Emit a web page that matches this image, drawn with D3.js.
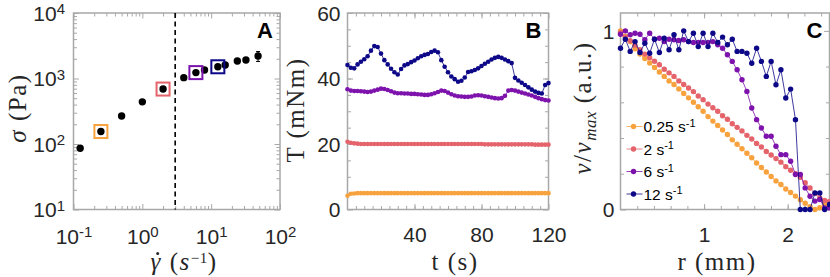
<!DOCTYPE html>
<html><head><meta charset="utf-8">
<script src="https://cdn.jsdelivr.net/npm/d3@7"></script>
<style>body{margin:0;background:#fff}svg{display:block}</style>
</head><body><svg id="chart" width="830" height="277"></svg>
<script>
// ---------------- DATA ----------------
const rateLabels = ["0.25", "2", "6", "12"];
const rateColors = ["#f8a23e", "#e5636b", "#7d12ac", "#0d0887"];

// Panel A: flow curve
const gammaA = [0.125, 0.25, 0.5, 1, 2, 4, 6, 8, 12.5, 16, 24, 32, 48];
const sigmaA = [86, 155, 268, 440, 690, 1030, 1230, 1350, 1510, 1610, 1850, 1920, 2200];
const errA   = [0, 0, 0, 0, 0, 0, 0, 0, 0, 0, 160, 160, 380];
const markedGammaA = [0.25, 2, 6, 12.5];
const criticalGamma = 3;
const xTicksA = [0.1, 1, 10, 100];
const yTicksA = [10, 100, 1000, 10000];

// Panel B: torque vs time
const tB = [0,2,4,6,8,10,12,14,16,18,20,22,24,26,28,30,32,34,36,38,40,42,44,46,48,50,52,54,56,58,60,
            62,64,66,68,70,72,74,76,78,80,82,84,86,88,90,92,94,96,98,100,102,104,106,108,110,112,114,116,118,120];
const torque025 = [4.2,4.8,4.9,5.0,5.0,5.0,5.0,5.0,5.0,5.0,5.0,5.0,5.0,5.0,5.0,5.0,5.0,5.0,5.0,5.0,5.0,
                   5.0,5.0,5.0,5.0,5.0,5.0,5.0,5.0,5.0,5.0,5.0,5.0,5.0,5.0,5.0,5.0,5.0,5.0,5.0,5.0,
                   5.0,5.0,5.0,5.0,5.0,5.0,5.0,5.0,5.0,5.0,5.0,5.0,5.0,5.0,5.0,5.0,5.0,5.0,5.0,5.0];
const torque2 = [20.7,20.4,20.2,20.1,20.0,20.0,20.0,20.0,20.0,20.0,20.0,20.0,20.0,20.0,20.0,20.0,20.0,20.0,20.0,20.0,20.0,
                 20.0,20.0,20.0,20.0,20.0,20.0,20.0,20.0,20.0,20.0,20.0,20.0,20.0,20.0,20.0,20.0,20.0,20.0,20.0,20.0,
                 19.9,19.9,19.9,19.9,19.9,19.9,19.9,19.9,19.9,19.9,19.9,19.9,19.9,19.9,19.9,19.8,19.8,19.8,19.8,19.8];
const torque6 = [36.7,36.3,36.2,36.2,36.1,36.0,35.9,36.0,36.3,36.6,36.9,36.8,36.5,36.1,35.7,35.5,35.5,35.4,35.4,35.3,35.3,
                 35.2,35.1,35.0,35.0,35.2,35.5,35.9,36.3,36.2,35.7,35.2,34.8,34.6,34.5,34.4,34.4,34.5,34.8,34.9,34.8,
                 34.6,34.4,34.2,34.0,33.9,34.0,34.7,36.3,36.5,36.3,36.0,35.7,35.4,35.1,34.8,34.4,34.0,33.7,33.4,33.3];
const torque12 = [44.1,43.3,43.1,44.3,45.1,45.9,46.8,48.5,49.9,49.6,47.6,45.6,44.3,43.0,41.9,41.2,42.9,44.0,44.4,45.0,45.5,
                  46.2,46.8,47.2,47.5,48.1,48.5,48.0,45.6,43.6,41.9,40.6,39.8,39.0,39.3,40.3,42.0,42.2,42.6,43.1,43.8,
                  44.5,45.1,45.8,46.3,46.6,46.3,45.8,45.3,44.7,40.2,39.4,38.7,38.0,37.3,36.6,36.0,35.6,35.4,38.0,38.6];
const xTicksB = [40, 80, 120];
const yTicksB = [0, 20, 40, 60];

// Panel C: velocity profiles
const rC = [0,0.058,0.116,0.174,0.233,0.291,0.349,0.407,0.465,0.523,0.581,0.640,0.698,0.756,0.814,0.872,0.930,0.988,
            1.047,1.105,1.163,1.221,1.279,1.337,1.395,1.453,1.512,1.570,1.628,1.686,1.744,1.802,1.860,1.919,1.977,
            2.035,2.093,2.151,2.209,2.267,2.326,2.384,2.442,2.500];
const vel025 = [1.00,0.97,0.94,0.90,0.87,0.845,0.82,0.795,0.77,0.745,0.72,0.70,0.675,0.65,0.625,0.60,0.575,0.55,
                0.52,0.495,0.47,0.445,0.42,0.39,0.365,0.34,0.315,0.29,0.26,0.235,0.21,0.185,0.16,0.14,0.115,
                0.095,0.075,0.055,0.035,0.015,0.0,0.01,0.03,0.04];
const vel2 = [0.99,0.965,0.945,0.92,0.895,0.87,0.85,0.83,0.81,0.785,0.765,0.745,0.72,0.70,0.68,0.66,0.635,0.615,
              0.59,0.57,0.55,0.525,0.505,0.48,0.46,0.44,0.415,0.395,0.37,0.35,0.325,0.305,0.285,0.265,0.24,
              0.22,0.20,0.18,0.15,0.12,0.09,0.065,0.05,0.045];
const vel6 = [0.981,1.0,0.978,0.987,0.981,0.950,0.987,0.953,0.959,0.940,0.953,0.950,0.946,0.950,0.940,0.935,0.935,0.935,
              0.935,0.940,0.922,0.903,0.866,0.829,0.782,0.726,0.661,0.568,0.503,0.456,0.410,0.410,0.354,0.307,0.307,
              0.270,0.196,0.196,0.121,0.074,0.047,0.056,0.009,0.009];
const vel12 = [0.903,0.953,0.885,0.940,0.879,0.931,0.875,0.953,0.879,0.959,0.894,0.978,0.894,1.0,0.940,0.987,0.912,0.987,
               0.912,0.987,0.935,0.965,0.922,0.953,0.885,0.885,0.875,0.819,0.903,0.829,0.745,0.829,0.698,0.782,0.624,
               0.674,0.503,0.0,0.0,0.0,0.093,0.093,0.0,0.028];
const xTicksC = [1, 2];
const yTicksC = [0, 1];

// ---------------- DRAWING ----------------
const svg = d3.select("#chart");
const tickFont = "'Liberation Sans', Arial, sans-serif";
const serifFont = "'Liberation Serif', 'Times New Roman', serif";
const frameColor = "#a8a8a8";
const textColor = "#262626";

const plotTop = 13, plotBottom = 209.5;
const panels = {
  A: {l: 73.5, r: 280},
  B: {l: 347.5, r: 548.5},
  C: {l: 620.5, r: 829.5}
};

function frame(g, x, y, xMajor, xMinor, yMajor, yMinor, w, h) {
  const mk = (axisFn, scale, vals, size) => axisFn(scale).tickValues(vals).tickSize(-size).tickSizeOuter(0).tickFormat("");
  const parts = [
    [d3.axisBottom, x, `translate(0,${h})`, xMinor, 3.5],
    [d3.axisBottom, x, `translate(0,${h})`, xMajor, 5.5],
    [d3.axisTop, x, `translate(0,0)`, xMinor, 3.5],
    [d3.axisTop, x, `translate(0,0)`, xMajor, 5.5],
    [d3.axisLeft, y, `translate(0,0)`, yMinor, 3.5],
    [d3.axisLeft, y, `translate(0,0)`, yMajor, 5.5],
    [d3.axisRight, y, `translate(${w},0)`, yMinor, 3.5],
    [d3.axisRight, y, `translate(${w},0)`, yMajor, 5.5]
  ];
  parts.forEach(([fn, sc, tr, vals, size]) => {
    const a = g.append("g").attr("transform", tr).call(mk(fn, sc, vals, size));
    a.select(".domain").remove();
    a.selectAll("line").attr("stroke", frameColor).attr("stroke-width", 1);
  });
  g.append("rect").attr("x", 0).attr("y", 0).attr("width", w).attr("height", h)
    .attr("fill", "none").attr("stroke", frameColor).attr("stroke-width", 1.5);
}

function labelsBottom(g, x, vals, h, fmt, baseline) {
  const a = g.append("g").attr("transform", `translate(0,${h})`)
    .call(d3.axisBottom(x).tickValues(vals).tickSize(0).tickFormat(""));
  a.select(".domain").remove();
  a.selectAll(".tick text").attr("y", baseline).attr("dy", 0)
    .attr("font-family", tickFont).attr("font-size", 21).attr("fill", textColor)
    .each(function(d) { fmt(d3.select(this), d); });
}
function labelsLeft(g, y, vals, pad, fmt) {
  const a = g.append("g").call(d3.axisLeft(y).tickValues(vals).tickSize(0).tickFormat(""));
  a.select(".domain").remove();
  a.selectAll(".tick text").attr("x", -pad).attr("dy", "0.35em")
    .attr("font-family", tickFont).attr("font-size", 21).attr("fill", textColor)
    .each(function(d) { fmt(d3.select(this), d); });
}
const plain = (s, d) => s.text(String(d));
const pow10 = (s, d) => {
  s.text("10");
  s.append("tspan").attr("dy", "-0.45em").attr("font-size", 15).text(String(Math.round(Math.log10(d))));
};

const titleSize = 25, titleSpacing = 1.5;
function yTitle(cx, cy, build) {
  const t = svg.append("text").attr("transform", `translate(${cx},${cy}) rotate(-90)`)
    .attr("text-anchor", "middle").attr("dy", "0.32em")
    .attr("font-family", serifFont).attr("font-size", titleSize).attr("letter-spacing", titleSpacing)
    .attr("fill", textColor);
  build(t);
  return t;
}
function xTitle(cx, by, build) {
  const t = svg.append("text").attr("x", cx).attr("y", by).attr("text-anchor", "middle")
    .attr("font-family", serifFont).attr("font-size", titleSize).attr("letter-spacing", titleSpacing)
    .attr("fill", textColor);
  build(t);
  return t;
}
function panelLetter(g, w, letter) {
  g.append("text").attr("x", w - 7).attr("y", 25).attr("text-anchor", "end")
    .attr("font-family", tickFont).attr("font-weight", "bold").attr("font-size", 22)
    .attr("fill", "#000").text(letter);
}

const H = plotBottom - plotTop;

// ===== Panel A =====
{
  const P = panels.A, w = P.r - P.l;
  const g = svg.append("g").attr("transform", `translate(${P.l},${plotTop})`);
  const x = d3.scaleLog().domain([0.1, 100]).range([0, w]);
  const y = d3.scaleLog().domain([10, 10000]).range([H, 0]);
  const minorX = [], minorY = [];
  [0.1, 1, 10].forEach(b => d3.range(2, 10).forEach(k => minorX.push(b * k)));
  [10, 100, 1000].forEach(b => d3.range(2, 10).forEach(k => minorY.push(b * k)));
  frame(g, x, y, xTicksA, minorX, yTicksA, minorY, w, H);
  labelsBottom(g, x, xTicksA, H, pow10, 34.5);
  labelsLeft(g, y, yTicksA, 8.5, pow10);

  g.append("line").attr("x1", x(criticalGamma)).attr("x2", x(criticalGamma))
    .attr("y1", 0).attr("y2", H).attr("stroke", "#000").attr("stroke-width", 1.6)
    .attr("stroke-dasharray", "5,3.5");

  const pts = gammaA.map((gm, i) => ({gm, s: sigmaA[i], e: errA[i]}));
  pts.filter(p => p.e > 0).forEach(p => {
    const x0 = x(p.gm), y1 = y(p.s - p.e), y2 = y(p.s + p.e);
    g.append("line").attr("x1", x0).attr("x2", x0).attr("y1", y1).attr("y2", y2).attr("stroke", "#000").attr("stroke-width", 1);
    [y1, y2].forEach(yy => g.append("line").attr("x1", x0 - 2).attr("x2", x0 + 2).attr("y1", yy).attr("y2", yy).attr("stroke", "#000").attr("stroke-width", 1));
  });
  g.selectAll("circle.pt").data(pts).join("circle").attr("class", "pt")
    .attr("cx", d => x(d.gm)).attr("cy", d => y(d.s)).attr("r", 3.7).attr("fill", "#000");
  markedGammaA.forEach((gm, i) => {
    const s = sigmaA[gammaA.indexOf(gm)];
    g.append("rect").attr("x", x(gm) - 6.5).attr("y", y(s) - 6.5).attr("width", 13).attr("height", 13)
      .attr("fill", "none").attr("stroke", rateColors[i]).attr("stroke-width", 2);
  });
  panelLetter(g, w, "A");
}
yTitle(18, 108, t => {
  t.append("tspan").attr("font-style", "italic").text("σ");
  t.append("tspan").text(" (Pa)");
});
{
  const t = xTitle(184, 270, t => {
    t.append("tspan").attr("font-style", "italic").text("γ");
    t.append("tspan").text(" (");
    t.append("tspan").attr("font-style", "italic").text("s");
    t.append("tspan").attr("dy", -7).attr("font-size", 15).attr("letter-spacing", 0.5).text("−1");
    t.append("tspan").attr("dy", 7).text(")");
  });
  // dot accent over gamma
  const ext = t.node().getExtentOfChar(0);
  svg.append("circle").attr("cx", ext.x + ext.width / 2 + 1.5).attr("cy", 253.5).attr("r", 1.5)
    .attr("fill", textColor);
}

// ===== Panel B =====
{
  const P = panels.B, w = P.r - P.l;
  const g = svg.append("g").attr("transform", `translate(${P.l},${plotTop})`);
  const x = d3.scaleLinear().domain([0, 120]).range([0, w]);
  const y = d3.scaleLinear().domain([0, 60]).range([H, 0]);
  frame(g, x, y, xTicksB, d3.range(5, 120, 5), yTicksB, d3.range(5, 60, 5), w, H);
  labelsBottom(g, x, xTicksB, H, plain, 32.5);
  labelsLeft(g, y, yTicksB, 7, plain);
  const series = [torque025, torque2, torque6, torque12];
  const line = d3.line().x(d => x(d.t)).y(d => y(d.v));
  series.forEach((vals, k) => {
    const data = tB.map((t, i) => ({t, v: vals[i]}));
    g.append("path").datum(data).attr("d", line).attr("fill", "none")
      .attr("stroke", rateColors[k]).attr("stroke-width", 0.8);
    g.selectAll(null).data(data).join("circle")
      .attr("cx", d => x(d.t)).attr("cy", d => y(d.v)).attr("r", 2.3).attr("fill", rateColors[k]);
  });
  panelLetter(g, w, "B");
}
yTitle(296, 110, t => t.text("T (mNm)"));
xTitle(455, 270, t => t.text("t (s)"));

// ===== Panel C =====
{
  const P = panels.C, w = P.r - P.l;
  const g = svg.append("g").attr("transform", `translate(${P.l},${plotTop})`);
  const x = d3.scaleLinear().domain([0, 2.5]).range([0, w]);
  const y = d3.scaleLinear().domain([0, 1.1]).range([H, 0]);
  frame(g, x, y, xTicksC, d3.range(0.2, 2.5, 0.2), yTicksC, [0.2, 0.4, 0.6, 0.8], w, H);
  labelsBottom(g, x, xTicksC, H, plain, 32.5);
  labelsLeft(g, y, yTicksC, 6, plain);
  const series = [vel025, vel2, vel6, vel12];
  const line = d3.line().x(d => x(d.r)).y(d => y(d.v));
  series.forEach((vals, k) => {
    const data = rC.map((r, i) => ({r, v: vals[i]}));
    g.append("path").datum(data).attr("d", line).attr("fill", "none")
      .attr("stroke", rateColors[k]).attr("stroke-width", 0.8);
    g.selectAll(null).data(data).join("circle")
      .attr("cx", d => x(d.r)).attr("cy", d => y(d.v)).attr("r", 2.7).attr("fill", rateColors[k]);
  });
  const leg = g.append("g");
  rateLabels.forEach((lab, k) => {
    const yy = 113.5 + k * 22.5;
    leg.append("line").attr("x1", 6).attr("x2", 22).attr("y1", yy).attr("y2", yy)
      .attr("stroke", rateColors[k]).attr("stroke-width", 0.8);
    leg.append("circle").attr("cx", 13).attr("cy", yy).attr("r", 2.7).attr("fill", rateColors[k]);
    const t = leg.append("text").attr("x", 23).attr("y", yy).attr("dy", "0.38em")
      .attr("font-family", tickFont).attr("font-size", 15.5).attr("fill", "#000");
    t.append("tspan").text(lab + " s");
    t.append("tspan").attr("dy", "-0.5em").attr("font-size", 11).text("-1");
  });
  panelLetter(g, w, "C");
}
yTitle(583, 108, t => {
  t.append("tspan").attr("font-style", "italic").text("v");
  t.append("tspan").text("/");
  t.append("tspan").attr("font-style", "italic").text("v");
  t.append("tspan").attr("font-style", "italic").attr("font-size", 17).attr("dy", 5).attr("letter-spacing", 0.5).text("max");
  t.append("tspan").attr("dy", -5).text(" (a.u.)");
});
xTitle(717, 270, t => t.text("r (mm)"));
</script>
</body></html>
